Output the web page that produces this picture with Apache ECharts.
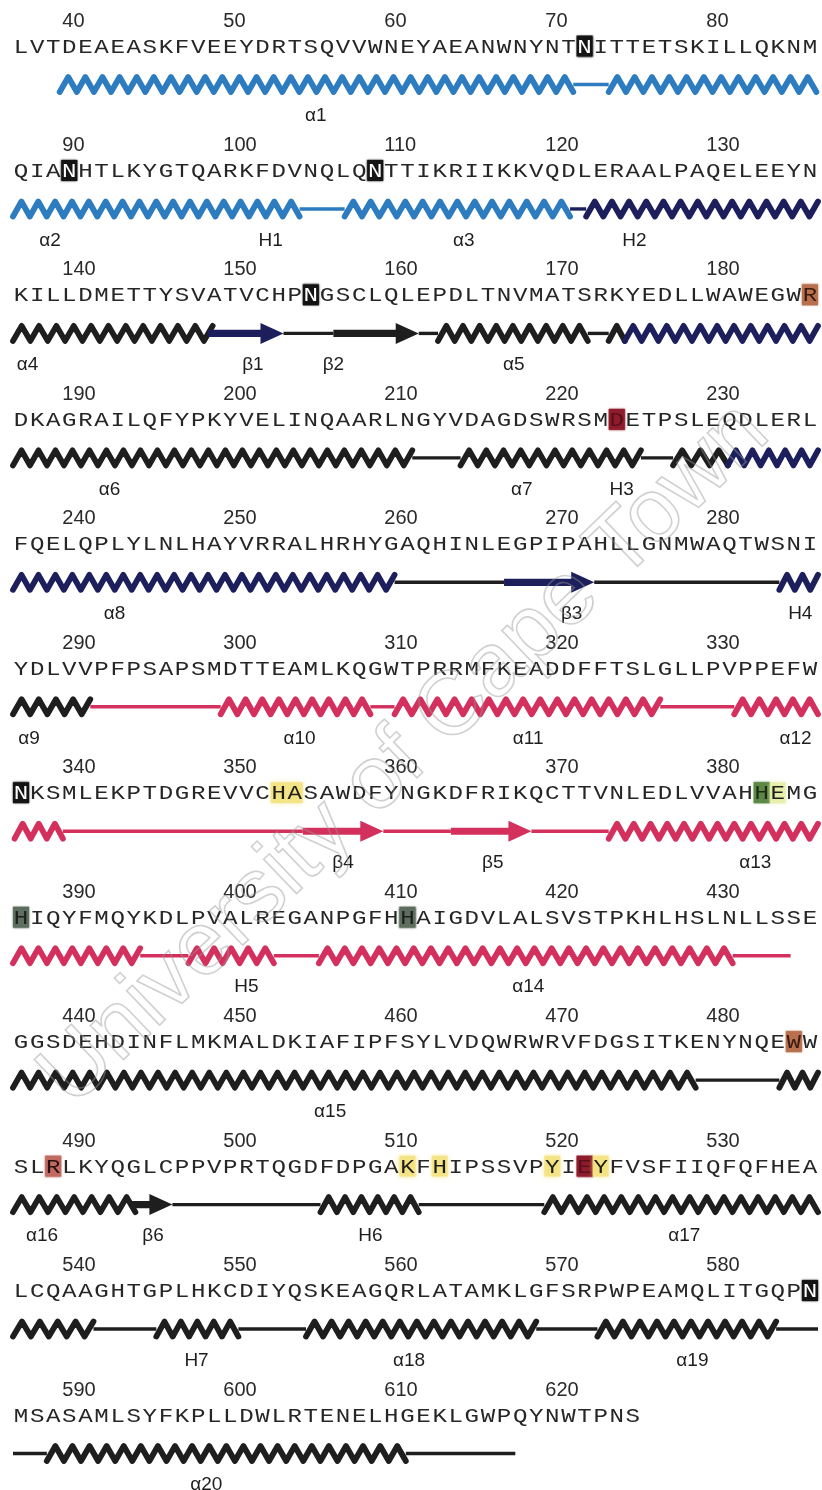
<!DOCTYPE html>
<html>
<head>
<meta charset="utf-8">
<script src="https://cdn.jsdelivr.net/npm/echarts@6/dist/echarts.min.js"></script>
<style>
  html, body { margin: 0; padding: 0; background: #ffffff; }
  #chart { width: 822px; height: 1490px; }
</style>
</head>
<body>
<div id="chart"></div>
<script>
// Residue numbering of the first letter and letters per printed row
const firstResidue = 37;
const perRow = 50;

// One string per printed row of the sequence
const sequenceRows = [
  'LVTDEAEASKFVEEYDRTSQVVWNEYAEANWNYNTNITTETSKILLQKNM',
  'QIANHTLKYGTQARKFDVNQLQNTTIKRIIKKVQDLERAALPAQELEEYN',
  'KILLDMETTYSVATVCHPNGSCLQLEPDLTNVMATSRKYEDLLWAWEGWR',
  'DKAGRAILQFYPKYVELINQAARLNGYVDAGDSWRSMDETPSLEQDLERL',
  'FQELQPLYLNLHAYVRRALHRHYGAQHINLEGPIPAHLLGNMWAQTWSNI',
  'YDLVVPFPSAPSMDTTEAMLKQGWTPRRMFKEADDFFTSLGLLPVPPEFW',
  'NKSMLEKPTDGREVVCHASAWDFYNGKDFRIKQCTTVNLEDLVVAHHEMG',
  'HIQYFMQYKDLPVALREGANPGFHHAIGDVLALSVSTPKHLHSLNLLSSE',
  'GGSDEHDINFLMKMALDKIAFIPFSYLVDQWRWRVFDGSITKENYNQEWW',
  'SLRLKYQGLCPPVPRTQGDFDPGAKFHIPSSVPYIEYFVSFIIQFQFHEA',
  'LCQAAGHTGPLHKCDIYQSKEAGQRLATAMKLGFSRPWPEAMQLITGQPN',
  'MSASAMLSYFKPLLDWLRTENELHGEKLGWPQYNWTPNS'
];

// Residue numbers printed above the sequence
const tickResidues = [40, 50, 60, 70, 80, 90, 100, 110, 120, 130, 140, 150, 160, 170, 180,
  190, 200, 210, 220, 230, 240, 250, 260, 270, 280, 290, 300, 310, 320, 330, 340, 350, 360,
  370, 380, 390, 400, 410, 420, 430, 440, 450, 460, 470, 480, 490, 500, 510, 520, 530, 540,
  550, 560, 570, 580, 590, 600, 610, 620];

// Marked residues: [residue, mark]
const markedResidues = [
  [72, 'glyco'], [90, 'glyco'], [109, 'glyco'], [155, 'glyco'], [186, 'brown'],
  [224, 'catalytic'], [337, 'glyco'], [353, 'yellow'], [354, 'yellow'], [383, 'green'],
  [384, 'lime'], [387, 'grey'], [411, 'grey'], [485, 'brown'], [489, 'rose'],
  [511, 'yellow'], [513, 'yellow'], [520, 'yellow'], [522, 'catalytic'], [523, 'yellow'],
  [586, 'glyco']
];

// Secondary structure per row: [row, from, to, element, domain]  (positions in letter cells)
const structureSegments = [
  [0, 2.9, 34.8, 'helix', 'blue'], [0, 34.8, 37, 'coil', 'blue'], [0, 37, 49.9, 'helix', 'blue'],
  [1, 0, 17.8, 'helix', 'blue'], [1, 17.8, 20.6, 'coil', 'blue'], [1, 20.6, 34.6, 'helix', 'blue'],
  [1, 34.6, 35.6, 'coil', 'navy'], [1, 35.6, 50, 'helix', 'navy'],
  [2, 0, 12.4, 'helix', 'black'], [2, 12.1, 16.8, 'strand', 'navy'], [2, 16.8, 19.9, 'coil', 'black'],
  [2, 19.9, 25.2, 'strand', 'black'], [2, 25.2, 26.4, 'coil', 'black'], [2, 26.4, 35.7, 'helix', 'black'],
  [2, 35.7, 37, 'coil', 'black'], [2, 37, 38, 'helix', 'black'], [2, 38, 50, 'helix', 'navy'],
  [3, 0, 24.8, 'helix', 'black'], [3, 24.8, 27.8, 'coil', 'black'], [3, 27.8, 39, 'helix', 'black'],
  [3, 39, 41, 'coil', 'black'], [3, 41, 44.4, 'helix', 'black'], [3, 44.4, 50, 'helix', 'navy'],
  [4, 0, 23.7, 'helix', 'navy'], [4, 23.7, 30.5, 'coil', 'black'], [4, 30.5, 36.1, 'strand', 'navy'],
  [4, 36.1, 47.6, 'coil', 'black'], [4, 47.6, 50, 'helix', 'navy'],
  [5, 0, 4.8, 'helix', 'black'], [5, 4.8, 12.9, 'coil', 'red'], [5, 12.9, 22.2, 'helix', 'red'],
  [5, 22.2, 23.7, 'coil', 'red'], [5, 23.7, 40.2, 'helix', 'red'], [5, 40.2, 44.8, 'coil', 'red'],
  [5, 44.8, 50, 'helix', 'red'],
  [6, 0.1, 3.1, 'helix', 'red'], [6, 3.1, 18, 'coil', 'red'], [6, 18, 23, 'strand', 'red'],
  [6, 23, 27.2, 'coil', 'red'], [6, 27.2, 32.2, 'strand', 'red'], [6, 32.2, 37, 'coil', 'red'],
  [6, 37, 50, 'helix', 'red'],
  [7, 0, 7.9, 'helix', 'red'], [7, 7.9, 10.9, 'coil', 'red'], [7, 10.9, 16.2, 'helix', 'red'],
  [7, 16.2, 19, 'coil', 'red'], [7, 19, 44.7, 'helix', 'red'], [7, 44.7, 48.3, 'coil', 'red'],
  [8, 0, 42.4, 'helix', 'black'], [8, 42.4, 47.6, 'coil', 'black'], [8, 47.6, 50, 'helix', 'black'],
  [9, 0, 7.6, 'helix', 'black'], [9, 7.3, 9.9, 'strand', 'black'], [9, 9.9, 19.1, 'coil', 'black'],
  [9, 19.1, 25.2, 'helix', 'black'], [9, 25.2, 33, 'coil', 'black'], [9, 33, 50, 'helix', 'black'],
  [10, 0, 5, 'helix', 'black'], [10, 5, 8.9, 'coil', 'black'], [10, 8.9, 14, 'helix', 'black'],
  [10, 14, 18.2, 'coil', 'black'], [10, 18.2, 32.5, 'helix', 'black'], [10, 32.5, 36.3, 'coil', 'black'],
  [10, 36.3, 47.4, 'helix', 'black'], [10, 47.4, 50, 'coil', 'black'],
  [11, 0, 2.1, 'coil', 'black'], [11, 2.1, 24.4, 'helix', 'black'], [11, 24.4, 31.2, 'coil', 'black']
];

// Element names under the structure: [row, centre position, name]
const elementNames = [
  [0, 18.8, 'α1'],
  [1, 2.3, 'α2'], [1, 16, 'H1'], [1, 28, 'α3'], [1, 38.6, 'H2'],
  [2, 0.9, 'α4'], [2, 14.9, 'β1'], [2, 19.9, 'β2'], [2, 31.1, 'α5'],
  [3, 6, 'α6'], [3, 31.6, 'α7'], [3, 37.8, 'H3'],
  [4, 6.3, 'α8'], [4, 34.7, 'β3'], [4, 48.9, 'H4'],
  [5, 1, 'α9'], [5, 17.8, 'α10'], [5, 32, 'α11'], [5, 48.6, 'α12'],
  [6, 20.5, 'β4'], [6, 29.8, 'β5'], [6, 46.1, 'α13'],
  [7, 14.5, 'H5'], [7, 32, 'α14'],
  [8, 19.7, 'α15'],
  [9, 1.8, 'α16'], [9, 8.7, 'β6'], [9, 22.2, 'H6'], [9, 41.7, 'α17'],
  [10, 11.4, 'H7'], [10, 24.6, 'α18'], [10, 42.2, 'α19'],
  [11, 12, 'α20']
];

const domainColors = { blue: '#2d7cc0', navy: '#1d1f5c', black: '#1e1e1e', red: '#d4305e' };
const markColors = {
  glyco: '#141414', brown: '#b8714e', catalytic: '#8e1c2c', yellow: '#f3e27c',
  green: '#5b8747', lime: '#e4eda6', grey: '#5d6e5e', rose: '#c06a62'
};
const markText = {
  glyco: '#ffffff', brown: '#3a1a10', catalytic: '#5a0f1a', yellow: '#1e1e1e',
  green: '#1e2a14', lime: '#1e1e1e', grey: '#1e1e1e', rose: '#2a1010'
};

// Offsets (px) of each text band relative to the sequence line of a row
const NUMBER_DY = -26;
const STRUCT_DY = 37.5;
const NAME_DY = 69;

function residueCell(res) {
  const k = res - firstResidue;
  return [k % perRow, Math.floor(k / perRow)];
}

const markLookup = {};
markedResidues.forEach(([res, kind]) => { markLookup[res] = kind; });

const chart = echarts.init(document.getElementById('chart'), null, { renderer: 'canvas' });

function renderMarks(params, api) {
  const idx = api.value(0), row = api.value(1);
  const kind = markedResidues[params.dataIndex][1];
  const a = api.coord([idx, row]);
  const b = api.coord([idx + 1, row]);
  const soft = kind === 'yellow' || kind === 'lime';
  return {
    type: 'rect',
    shape: { x: a[0], y: a[1] - 11.5, width: b[0] - a[0], height: 21 },
    style: {
      fill: markColors[kind],
      opacity: soft ? 0.85 : 1,
      shadowBlur: soft ? 5 : 2,
      shadowColor: markColors[kind]
    }
  };
}

function renderSequence(params, api) {
  const row = api.value(0);
  const text = sequenceRows[row];
  const children = [];
  for (let i = 0; i < text.length; i++) {
    const p = api.coord([i + 0.5, row]);
    const res = firstResidue + row * perRow + i;
    const kind = markLookup[res];
    children.push({
      type: 'text',
      x: p[0], y: p[1],
      scaleX: 1.15,
      style: {
        text: text[i],
        x: 0, y: 0,
        align: 'center', verticalAlign: 'middle',
        font: '21px "Liberation Mono", "DejaVu Sans Mono", monospace',
        fill: kind ? markText[kind] : '#262626'
      }
    });
  }
  return { type: 'group', children };
}

function renderNumbers(params, api) {
  const idx = api.value(0), row = api.value(1);
  const p = api.coord([idx, row]);
  return {
    type: 'text',
    style: {
      text: String(api.value(2)),
      x: p[0] + 1, y: p[1] + NUMBER_DY,
      align: 'left', verticalAlign: 'middle',
      font: '20px "Liberation Sans", Arial, sans-serif',
      fill: '#2a2a2a'
    }
  };
}

function renderStructure(params, api) {
  const seg = structureSegments[params.dataIndex];
  const row = api.value(0);
  const p0 = api.coord([api.value(1), row]);
  const p1 = api.coord([api.value(2), row]);
  const cell = api.size([1, 0])[0];
  const color = domainColors[seg[4]];
  const y = p0[1] + STRUCT_DY;
  const x0 = p0[0], x1 = p1[0];
  if (seg[3] === 'coil') {
    return {
      type: 'line',
      shape: { x1: x0, y1: y, x2: x1, y2: y },
      style: { stroke: color, lineWidth: 3.4 }
    };
  }
  if (seg[3] === 'strand') {
    const hs = 3.6, hh = 10.5, hl = 23;
    return {
      type: 'polygon',
      shape: {
        points: [[x0, y - hs], [x1 - hl, y - hs], [x1 - hl, y - hh], [x1, y],
                 [x1 - hl, y + hh], [x1 - hl, y + hs], [x0, y + hs]]
      },
      style: { fill: color }
    };
  }
  // helix drawn as a zigzag coil, roughly one turn per residue
  const halfTurn = cell * 0.53;
  const n = Math.max(2, Math.round((x1 - x0) / halfTurn));
  const amp = 7.5;
  const pts = [];
  for (let k = 0; k <= n; k++) {
    pts.push([x0 + (x1 - x0) * k / n, k % 2 === 0 ? y + amp : y - amp]);
  }
  return {
    type: 'polyline',
    shape: { points: pts },
    style: { stroke: color, lineWidth: 5.8, lineJoin: 'round', lineCap: 'round', fill: null }
  };
}

function renderNames(params, api) {
  const row = api.value(1);
  const p = api.coord([api.value(0), row]);
  return {
    type: 'text',
    style: {
      text: elementNames[params.dataIndex][2],
      x: p[0], y: p[1] + NAME_DY,
      align: 'center', verticalAlign: 'middle',
      font: '19px "Liberation Sans", Arial, sans-serif',
      fill: '#1e1e1e'
    }
  };
}

const option = {
  animation: false,
  backgroundColor: '#ffffff',
  grid: { left: 13, right: 4, top: 47, bottom: 74, containLabel: false },
  xAxis: { type: 'value', min: 0, max: 50, show: false },
  yAxis: { type: 'value', min: 0, max: 11, inverse: true, show: false },
  graphic: [{
    type: 'text',
    x: 405, y: 755,
    rotation: 0.765,
    z: 100,
    style: {
      text: 'University of Cape Town',
      align: 'center', verticalAlign: 'middle',
      font: '90px "Liberation Sans", Arial, sans-serif',
      fill: 'rgba(0,0,0,0)',
      stroke: 'rgba(150,150,150,0.45)',
      lineWidth: 1.6
    }
  }],
  series: [
    {
      type: 'custom', name: 'marks', z: 1,
      data: markedResidues.map(([res]) => residueCell(res)),
      renderItem: renderMarks
    },
    {
      type: 'custom', name: 'sequence', z: 2,
      data: sequenceRows.map((s, r) => [r]),
      encode: { y: 0 },
      renderItem: renderSequence
    },
    {
      type: 'custom', name: 'numbers', z: 2,
      data: tickResidues.map(res => residueCell(res).concat([res])),
      renderItem: renderNumbers
    },
    {
      type: 'custom', name: 'structure', z: 3,
      data: structureSegments.map(s => [s[0], s[1], s[2]]),
      encode: { y: 0, x: [1, 2] },
      renderItem: renderStructure
    },
    {
      type: 'custom', name: 'names', z: 2,
      data: elementNames.map(n => [n[1], n[0]]),
      renderItem: renderNames
    }
  ]
};

chart.setOption(option);
</script>
</body>
</html>
